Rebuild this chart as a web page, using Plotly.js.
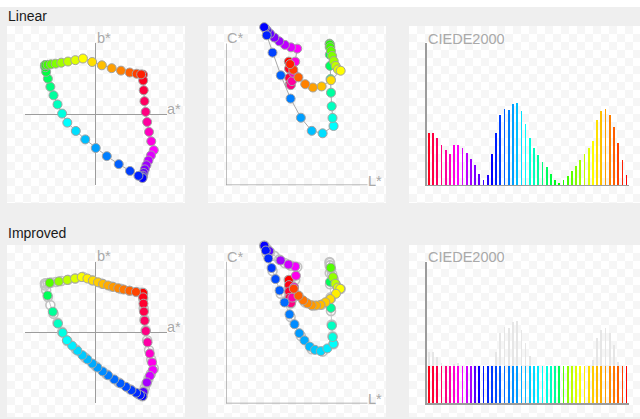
<!DOCTYPE html>
<html><head><meta charset="utf-8">
<script src="https://cdn.plot.ly/plotly-3.0.1.min.js"></script>
<style>
html,body{margin:0;padding:0;background:#efefef;}
#wrap{position:relative;width:640px;height:419px;overflow:hidden;background:#efefef;}
.topstrip{position:absolute;left:0;top:0;width:640px;height:7px;background:#fff;}
.panel{position:absolute;background-color:#fff;background-image:conic-gradient(#f6f6f6 25%,transparent 0 50%,#f6f6f6 0 75%,transparent 0);background-size:16px 16px;}
#chart{position:absolute;left:0;top:0;width:640px;height:419px;}
</style></head>
<body><div id="wrap">
<div class="topstrip"></div>
<div class="panel" style="left:7px;top:26px;width:178px;height:177px"></div>
<div class="panel" style="left:208px;top:26px;width:178px;height:177px"></div>
<div class="panel" style="left:409px;top:26px;width:231px;height:177px"></div>
<div class="panel" style="left:7px;top:245px;width:178px;height:172px"></div>
<div class="panel" style="left:208px;top:245px;width:178px;height:172px"></div>
<div class="panel" style="left:409px;top:245px;width:231px;height:172px"></div>
<div id="chart"></div>
</div>
<script>
// Linear hue ramp (HSL hue, degrees)
const linearHue = [0,352.5,345,337.5,330,322.5,315,307.5,300,292.5,285,277.5,270,262.5,255,247.5,240,232.5,225,217.5,210,202.5,195,187.5,180,172.5,165,157.5,150,142.5,135,127.5,120,112.5,105,97.5,90,82.5,75,67.5,60,52.5,45,37.5,30,22.5,15,7.5];
const linearL = [53.2,53.4,53.6,54.1,54.9,55.9,57.1,58.6,60.3,55.0,49.9,45.1,40.9,37.3,34.6,33.0,32.3,34.5,39.4,46.4,54.7,63.4,72.6,81.8,91.1,90.2,89.5,88.9,88.5,88.1,87.9,87.8,87.7,87.9,88.3,88.9,89.9,91.2,92.8,94.8,97.1,88.9,81.0,73.6,67.1,61.3,57.0,54.3];
const linearA = [80.1,80.4,81.3,82.6,84.6,87.1,90.3,94.1,98.3,93.6,89.4,85.9,83.2,81.2,80.0,79.4,79.2,72.4,58.1,39.0,18.8,0.1,-17.7,-33.7,-48.1,-56.9,-64.7,-71.4,-76.8,-81.0,-83.9,-85.5,-86.2,-84.9,-81.5,-75.8,-67.8,-58.3,-46.9,-34.5,-21.6,-6.0,10.4,27.1,42.8,57.6,69.4,77.0];
const linearB = [67.2,57.2,40.7,22.3,4.1,-13.0,-29.8,-45.7,-60.8,-69.7,-78.3,-86.3,-93.3,-99.4,-103.9,-106.7,-107.9,-104.2,-96.0,-84.4,-70.9,-57.1,-42.5,-28.2,-14.1,1.2,16.7,32.1,46.6,60.4,71.9,79.7,83.2,83.4,83.8,84.6,85.8,87.4,89.4,91.7,94.5,88.6,83.0,78.1,74.0,70.8,68.7,67.6];
const linearC = [104.6,98.7,90.9,85.6,84.7,88.1,95.1,104.6,115.6,116.7,118.8,121.8,125.0,128.3,131.1,133.0,133.8,126.9,112.2,93.0,73.3,57.1,46.0,43.9,50.1,56.9,66.8,78.3,89.8,101.0,110.5,116.9,119.8,119.0,116.9,113.6,109.4,105.1,101.0,98.0,96.9,88.8,83.6,82.7,85.5,91.3,97.7,102.5];
const linearDE = [3.65,3.65,3.3,2.85,2.5,2.2,2.8,2.85,2.6,2.3,1.85,1.4,0.8,0.35,0.7,2.2,3.65,4.95,5.4,5.3,5.75,5.8,5.2,4.3,3.35,2.65,2.1,1.65,1.3,0.8,0.35,0.15,0.35,0.65,1.0,1.35,1.75,2.2,2.65,3.1,4.6,5.2,5.35,4.95,4.1,2.95,1.75,0.7];

// Improved (perceptually even) ramp
const improvedHue = [0,354.4,348.75,342.9,336.6,329.3,320.9,312.3,305.0,297.6,289.4,279.3,260.6,241.5,235.3,230.4,226.3,222.3,218.55,214.65,210.8,207.15,203.6,200.0,196.5,192.75,188.8,184.3,179.4,173.25,165.7,155.8,140.9,100.4,85.7,75.75,67.9,61.2,56.3,52.0,48.0,44.1,40.3,36.3,32.2,27.7,22.65,15.75];
const improvedL = [53.2,53.35,53.5,53.75,54.2,55.0,56.15,57.65,59.2,58.6,52.9,46.25,36.6,32.45,33.7,35.9,38.6,41.9,45.4,49.55,53.8,58.0,62.1,66.4,70.8,75.4,80.2,85.8,91.0,90.3,89.6,88.8,88.1,88.7,90.6,92.6,94.7,96.7,93.1,88.35,84.2,80.1,76.3,72.6,69.0,65.3,61.4,57.4];
const improvedA = [80.1,80.3,80.85,81.65,82.85,84.8,87.8,91.65,95.5,96.8,91.8,86.75,80.9,79.25,74.9,68.4,60.5,51.2,41.7,31.3,21.0,11.7,2.9,-5.8,-14.1,-22.5,-31.0,-39.9,-48.8,-56.0,-64.0,-72.6,-81.6,-78.0,-62.4,-48.0,-35.1,-23.7,-14.0,-4.85,3.8,12.4,20.9,29.6,38.2,47.4,57.3,68.2];
const improvedB = [67.2,59.7,48.95,35.55,20.1,2.6,-16.5,-35.5,-50.7,-63.6,-73.3,-84.4,-100.6,-107.65,-105.6,-101.9,-97.4,-91.8,-86.0,-79.3,-72.4,-65.7,-59.2,-52.3,-45.4,-38.2,-30.6,-22.1,-12.9,-0.3,15.3,35.4,62.8,84.3,86.7,89.2,91.6,94.1,91.6,88.2,85.2,82.4,79.9,77.4,75.2,73.0,70.9,68.9];
const improvedC = [104.6,100.2,94.8,89.4,85.5,85.0,89.6,98.5,108.2,116.0,117.6,121.1,129.0,133.6,129.5,122.8,114.7,105.3,95.7,85.5,75.5,67.1,59.5,53.4,48.2,45.4,44.3,46.6,50.6,56.2,65.9,80.9,103.0,114.9,106.9,101.4,98.1,97.1,92.9,88.4,85.7,83.5,83.0,83.1,84.7,87.3,91.2,97.1];
const improvedDE = [2.66,2.66,2.66,2.66,2.66,2.66,2.66,2.66,2.66,2.66,2.66,2.66,2.66,2.66,2.66,2.66,2.66,2.66,2.66,2.66,2.66,2.66,2.66,2.66,2.66,2.66,2.66,2.66,2.66,2.66,2.66,2.66,2.66,2.66,2.66,2.66,2.66,2.66,2.66,2.66,2.66,2.66,2.66,2.66,2.66,2.66,2.66,2.66];
const stepIndex = [1,2,3,4,5,6,7,8,9,10,11,12,13,14,15,16,17,18,19,20,21,22,23,24,25,26,27,28,29,30,31,32,33,34,35,36,37,38,39,40,41,42,43,44,45,46,47,48];

const hsl = h => 'hsl(' + h + ',100%,50%)';
const linCol = linearHue.map(hsl);
const impCol = improvedHue.map(hsl);
// each step bar takes the colour of the swatch it leads to
const linBarCol = linCol.slice(1).concat([linCol[0]]);
const impBarCol = impCol.slice(1).concat([impCol[0]]);

const AXC = '#9c9c9c', LBL = '#a9a9a9';
const dot = (cols) => ({size: 9, color: cols, line: {color: '#a3a3a3', width: 1}});
const ghost = {size: 9, color: 'rgba(255,255,255,0)', line: {color: '#c2c2c2', width: 1.6}};

const traces = [
  {type:'scatter', mode:'lines+markers', x: linearA, y: linearB, xaxis:'x', yaxis:'y',
   line:{color:'#a8a8a8', width:1}, marker: dot(linCol), cliponaxis:false},
  {type:'scatter', mode:'lines+markers', x: linearL, y: linearC, xaxis:'x2', yaxis:'y2',
   line:{color:'#a8a8a8', width:1}, marker: dot(linCol), cliponaxis:false},
  {type:'bar', x: stepIndex, y: linearDE, xaxis:'x3', yaxis:'y3', width:0.42,
   marker:{color: linBarCol, line:{width:0}}},

  {type:'scatter', mode:'lines+markers', x: linearA, y: linearB, xaxis:'x4', yaxis:'y4',
   line:{color:'#c4c4c4', width:1}, marker: ghost, cliponaxis:false},
  {type:'scatter', mode:'markers', x: improvedA, y: improvedB, xaxis:'x4', yaxis:'y4',
   marker: dot(impCol), cliponaxis:false},
  {type:'scatter', mode:'lines+markers', x: linearL, y: linearC, xaxis:'x5', yaxis:'y5',
   line:{color:'#c4c4c4', width:1}, marker: ghost, cliponaxis:false},
  {type:'scatter', mode:'markers', x: improvedL, y: improvedC, xaxis:'x5', yaxis:'y5',
   marker: dot(impCol), cliponaxis:false},
  {type:'bar', x: stepIndex, y: linearDE, xaxis:'x6', yaxis:'y6', width:0.42,
   marker:{color:'#e6e6e6', line:{width:0}}},
  {type:'bar', x: stepIndex, y: improvedDE, xaxis:'x6', yaxis:'y6', width:0.42,
   marker:{color: impBarCol, line:{width:0}}}
];

const W = 640, H = 419;
const px = x => x / W, py = y => 1 - y / H;
const base = {showgrid:false, zeroline:false, showline:false, showticklabels:false, ticks:'', fixedrange:true};
const zl = {zeroline:true, zerolinecolor:AXC, zerolinewidth:1.3};
const ln = {showline:true, linecolor:AXC, linewidth:1.3};

const DY = 218.3;
function rows(off) {
  return {
    ab: [py(185.15 + off), py(43.45 + off)],
    lc: [py(185.15 + off), py(15.1 + off)]
  };
}
const T = rows(0), B = rows(DY);
const dx1 = [px(24.85), px(166.55)], dx2 = [px(226), px(367.7)], dx3 = [px(426.7), px(628.7)];

function axisLines(xr, yr) {
  return [
    {type:'line', xref:xr, yref:yr, x0:0, x1:0, y0:0, y1:120, line:{color:AXC, width:1.3}, layer:'below'},
    {type:'line', xref:xr, yref:yr, x0:0, x1:120, y0:0, y1:0, line:{color:AXC, width:1.3}, layer:'below'}
  ];
}

const FONT = 'Liberation Sans, Arial, Helvetica, sans-serif';
function label(text, x, y, size, color) {
  return {text: text, xref:'paper', yref:'paper', x: px(x), y: py(y), xanchor:'left', yanchor:'middle',
          showarrow:false, borderpad:0, font:{family:FONT, size:size, color:color}};
}
const annotations = [
  label('Linear', 7, 15.5, 14, '#1a1a1a'),
  label('Improved', 7, 232.7, 14, '#1a1a1a')
];
[0, DY].forEach(o => {
  annotations.push(label('b*', 96, 38 + o, 14.5, LBL));
  annotations.push(label('a*', 166, 108.8 + o, 14.5, LBL));
  annotations.push(label('C*', 226, 38.5 + o, 14.5, LBL));
  annotations.push(label('L*', 367, 180.5 + o, 14.5, LBL));
  annotations.push(label('CIEDE2000', 427, 38.8 + o, 14.5, LBL));
});

const layout = {
  width: W, height: H, margin:{l:0, r:0, t:0, b:0},
  paper_bgcolor:'rgba(0,0,0,0)', plot_bgcolor:'rgba(0,0,0,0)',
  showlegend:false, barmode:'overlay', bargap:0,
  font:{family:FONT},
  xaxis:  Object.assign({}, base, zl, {domain:dx1, range:[-120,120], anchor:'y'}),
  yaxis:  Object.assign({}, base, zl, {domain:T.ab, range:[-120,120], anchor:'x'}),
  xaxis2: Object.assign({}, base, {domain:dx2, range:[0,120], anchor:'y2'}),
  yaxis2: Object.assign({}, base, {domain:T.lc, range:[0,144], anchor:'x2'}),
  xaxis3: Object.assign({}, base, ln, {domain:dx3, range:[0.5,48.5], anchor:'y3'}),
  yaxis3: Object.assign({}, base, ln, {domain:T.ab, range:[0,10], anchor:'x3'}),
  xaxis4: Object.assign({}, base, zl, {domain:dx1, range:[-120,120], anchor:'y4'}),
  yaxis4: Object.assign({}, base, zl, {domain:B.ab, range:[-120,120], anchor:'x4'}),
  xaxis5: Object.assign({}, base, {domain:dx2, range:[0,120], anchor:'y5'}),
  yaxis5: Object.assign({}, base, {domain:B.lc, range:[0,144], anchor:'x5'}),
  xaxis6: Object.assign({}, base, ln, {domain:dx3, range:[0.5,48.5], anchor:'y6'}),
  yaxis6: Object.assign({}, base, ln, {domain:B.ab, range:[0,10], anchor:'x6'}),
  shapes: axisLines('x2','y2').concat(axisLines('x5','y5')),
  annotations: annotations
};

Plotly.newPlot('chart', traces, layout, {staticPlot:true, displayModeBar:false});
</script>
</body></html>
